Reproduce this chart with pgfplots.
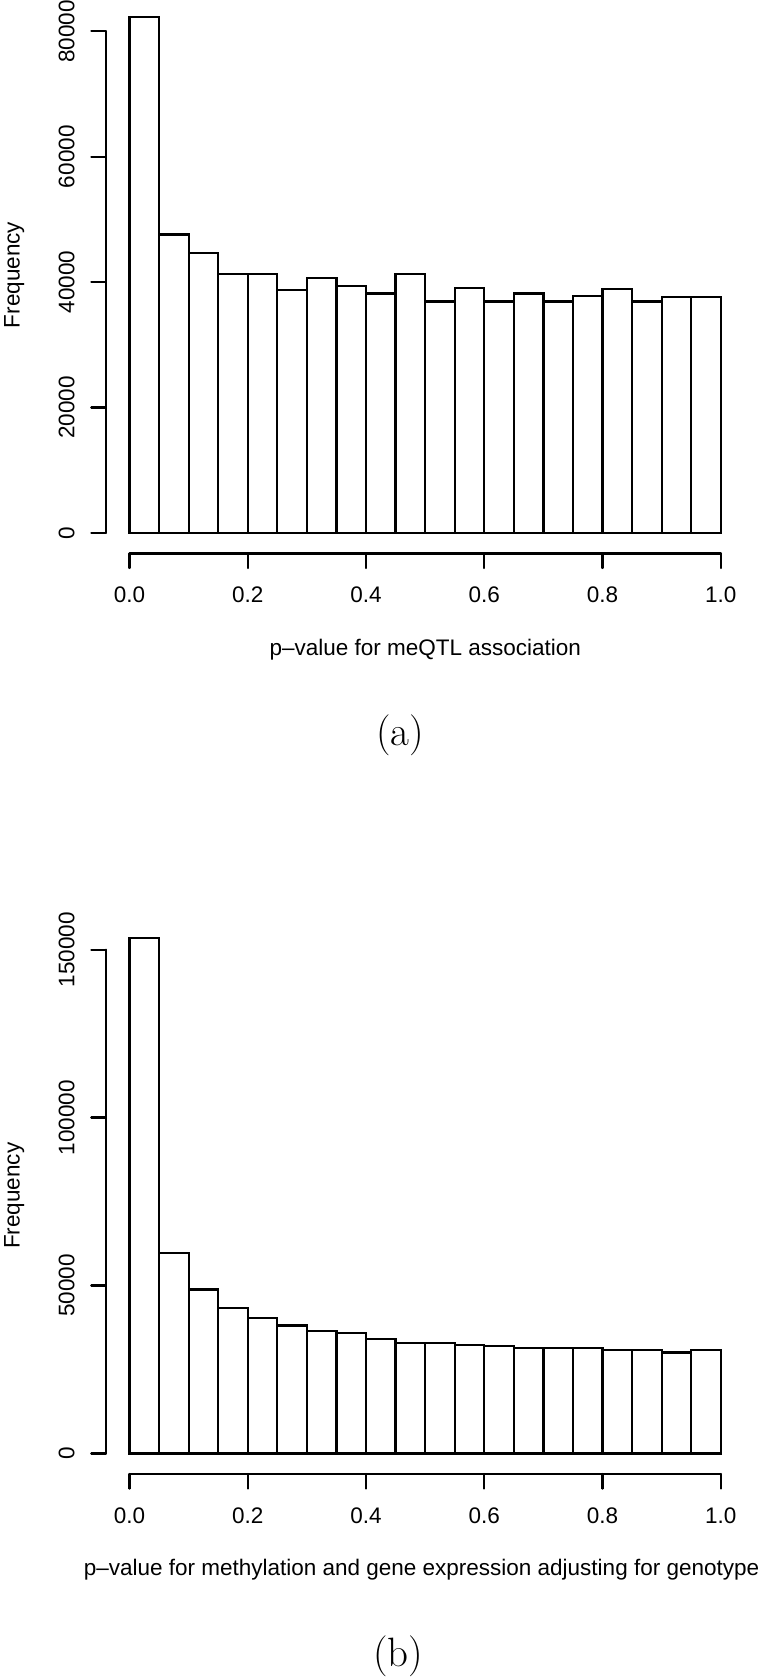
\documentclass[border=0pt]{standalone}
\usepackage{fontspec}
\usepackage{pgfplots}
\pgfplotsset{compat=1.18}
\newfontfamily\hv{Liberation Sans}
\pgfplotstableread{
x y
0.00 82300
0.05 47600
0.10 44600
0.15 41250
0.20 41250
0.25 38750
0.30 40700
0.35 39400
0.40 38200
0.45 41250
0.50 36900
0.55 39100
0.60 36900
0.65 38200
0.70 36900
0.75 37800
0.80 38900
0.85 36900
0.90 37600
0.95 37600
1.00 37600
}\dataA
\pgfplotstableread{
x y
0.00 153500
0.05 59700
0.10 48800
0.15 43300
0.20 40400
0.25 38100
0.30 36400
0.35 35800
0.40 34100
0.45 32900
0.50 32900
0.55 32400
0.60 32000
0.65 31300
0.70 31300
0.75 31300
0.80 30800
0.85 30800
0.90 30100
0.95 30800
1.00 30800
}\dataB
\pgfplotsset{rhist/.style={
  scale only axis, width=255.44pt,
  xmin=-0.04, xmax=1.04, clip=false,
  axis lines*=left, axis line style={draw=none},
  tick align=outside, major tick length=5.8pt,
  tick style={black, line width=0.9pt, line cap=round},
  xtick={0,0.2,0.4,0.6,0.8,1},
  minor tick num=0,
  scaled y ticks=false, scaled x ticks=false,
  /pgf/number format/assume math mode=true,
  xticklabel style={font=\hv\fontsize{9}{10}\selectfont, anchor=north, inner sep=0pt, yshift=-7.5pt,
     /pgf/number format/fixed, /pgf/number format/fixed zerofill, /pgf/number format/precision=1},
  yticklabel style={font=\hv\fontsize{9}{10}\selectfont, rotate=90, anchor=south, inner sep=0pt, yshift=6.5pt,
     /pgf/number format/fixed, /pgf/number format/1000 sep={}},
}}
\begin{document}
\begin{tikzpicture}[x=1pt,y=1pt]
\useasboundingbox (0,0) rectangle (302.8,-670.8);
% ---------- (a)
\begin{axis}[rhist, at={(42.34pt,-221.4pt)}, anchor=south west, height=222.88pt,
  ymin=-3292, ymax=85592, ytick={0,20000,40000,60000,80000}]
\addplot[ybar interval, fill=white, draw=black, line width=0.9pt] table[x=x,y=y] {\dataA};
\draw[line width=0.9pt, line cap=round] (axis cs:-0.04,0) -- (axis cs:-0.04,80000);
\draw[line width=0.9pt, line cap=round] (axis cs:0,-3292) -- (axis cs:1,-3292);
\end{axis}
\node[rotate=90, anchor=base, font=\hv\fontsize{9}{10}\selectfont] at (7.8,-110) {Frequency};
\node[anchor=base, font=\hv\fontsize{9}{10}\selectfont] at (170.08,-262.2) {p–value for meQTL association};
\node[anchor=base, font=\fontsize{16.4}{20}\selectfont] at (160,-298) {(a)};
% ---------- (b)
\begin{axis}[rhist, at={(42.34pt,-589.64pt)}, anchor=south west, height=222.72pt,
  ymin=-6140, ymax=159640, ytick={0,50000,100000,150000}]
\addplot[ybar interval, fill=white, draw=black, line width=0.9pt] table[x=x,y=y] {\dataB};
\draw[line width=0.9pt, line cap=round] (axis cs:-0.04,0) -- (axis cs:-0.04,150000);
\draw[line width=0.9pt, line cap=round] (axis cs:0,-6140) -- (axis cs:1,-6140);
\end{axis}
\node[rotate=90, anchor=base, font=\hv\fontsize{9}{10}\selectfont] at (7.8,-478.3) {Frequency};
\node[anchor=base, font=\hv\fontsize{9}{10}\selectfont] at (168.6,-630.2) {p–value for methylation and gene expression adjusting for genotype};
\node[anchor=base, font=\fontsize{16.4}{20}\selectfont] at (159.2,-666.4) {(b)};
\end{tikzpicture}
\end{document}
